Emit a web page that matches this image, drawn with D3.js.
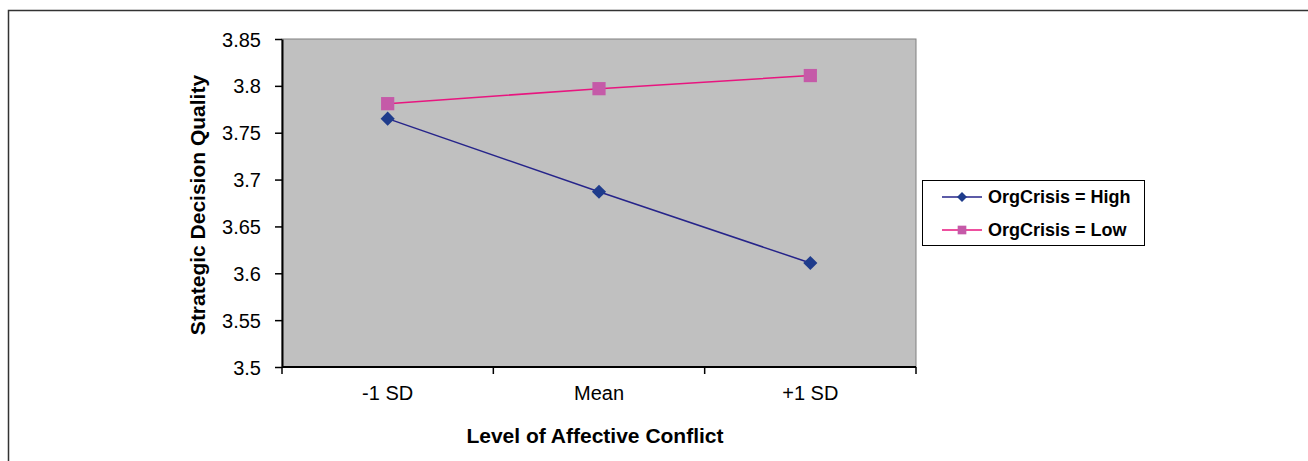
<!DOCTYPE html>
<html>
<head>
<meta charset="utf-8">
<script src="https://cdn.jsdelivr.net/npm/d3@7"></script>
<style>
  body { margin: 0; background: #fff; }
  svg { display: block; font-family: 'Liberation Sans', Arial, sans-serif; }
</style>
</head>
<body>
<div id="chart"></div>
<script>
// Data
const categories = ['-1 SD', 'Mean', '+1 SD'];
const seriesNames = ['OrgCrisis = High', 'OrgCrisis = Low'];
const highValues = [3.765, 3.687, 3.611];
const lowValues = [3.781, 3.797, 3.811];
const yTicks = [3.5, 3.55, 3.6, 3.65, 3.7, 3.75, 3.8, 3.85];

const W = 1308, H = 461;
const plot = { l: 282, r: 916, t: 39, b: 367 };

const svg = d3.select('#chart').append('svg').attr('width', W).attr('height', H);

// outer frame
svg.append('rect')
  .attr('x', 8.5).attr('y', 10.5).attr('width', W + 20).attr('height', H + 20)
  .attr('fill', 'none').attr('stroke', '#333').attr('stroke-width', 1.5);

const x = d3.scaleBand(categories, [plot.l, plot.r]);
const y = d3.scaleLinear([3.5, 3.85], [plot.b, plot.t]);

// plot background
svg.append('rect')
  .attr('x', plot.l).attr('y', plot.t)
  .attr('width', plot.r - plot.l).attr('height', plot.b - plot.t)
  .attr('fill', '#c0c0c0').attr('stroke', '#808080').attr('stroke-width', 1);

// y axis
const yAxis = svg.append('g')
  .attr('transform', `translate(${plot.l}, 0)`)
  .call(d3.axisLeft(y).tickValues(yTicks).tickFormat(d3.format('')).tickSize(7).tickSizeOuter(0).tickPadding(14));
yAxis.select('.domain').attr('stroke', '#000').attr('stroke-width', 2);
yAxis.selectAll('line').attr('stroke', '#000').attr('stroke-width', 1.5);
yAxis.selectAll('text').style('font-size', '20px').attr('fill', '#000').attr('dy', '0.35em');

// x axis with ticks between categories
const xAxis = svg.append('g').attr('transform', `translate(0, ${plot.b})`);
xAxis.append('line')
  .attr('x1', plot.l).attr('x2', plot.r)
  .attr('stroke', '#000').attr('stroke-width', 2);
const bounds = categories.map((c) => x(c)).concat([plot.r]);
xAxis.selectAll('.tk').data(bounds).join('line')
  .attr('x1', (d) => d).attr('x2', (d) => d)
  .attr('y1', 0).attr('y2', 7)
  .attr('stroke', '#000').attr('stroke-width', 1.5);
xAxis.selectAll('.lbl').data(categories).join('text')
  .attr('x', (d) => x(d) + x.bandwidth() / 2)
  .attr('y', 33)
  .attr('text-anchor', 'middle')
  .style('font-size', '20px')
  .text((d) => d);

// axis titles
svg.append('text')
  .attr('transform', `translate(205, ${(plot.t + plot.b) / 2 + 2}) rotate(-90)`)
  .attr('text-anchor', 'middle')
  .style('font-size', '21px').style('font-weight', 'bold')
  .text('Strategic Decision Quality');
svg.append('text')
  .attr('x', (plot.l + plot.r) / 2 - 4).attr('y', 443)
  .attr('text-anchor', 'middle')
  .style('font-size', '21px').style('font-weight', 'bold')
  .text('Level of Affective Conflict');

const cx = (i) => x(categories[i]) + x.bandwidth() / 2;
const line = d3.line().x((d, i) => cx(i)).y((d) => y(d));

const series = [
  { name: seriesNames[0], values: highValues, line: '#26248a', marker: '#1f3c8c', rot: 45, size: 100, lsize: 50 },
  { name: seriesNames[1], values: lowValues, line: '#e8157f', marker: '#c55aa8', rot: 0, size: 175, lsize: 75 }
];

series.forEach((s) => {
  svg.append('path')
    .datum(s.values)
    .attr('fill', 'none').attr('stroke', s.line).attr('stroke-width', 1.5)
    .attr('d', line);
  svg.append('g').selectAll('path').data(s.values).join('path')
    .attr('transform', (d, i) => `translate(${cx(i)}, ${y(d)}) rotate(${s.rot})`)
    .attr('d', d3.symbol(d3.symbolSquare, s.size))
    .attr('fill', s.marker);
});

// legend
const lg = svg.append('g').attr('transform', 'translate(922, 180)');
lg.append('rect')
  .attr('x', 0.5).attr('y', 0.5).attr('width', 222).attr('height', 65)
  .attr('fill', '#fff').attr('stroke', '#000').attr('stroke-width', 1);
series.forEach((s, i) => {
  const ly = 17 + i * 33;
  lg.append('line')
    .attr('x1', 20).attr('x2', 60).attr('y1', ly).attr('y2', ly)
    .attr('stroke', s.line).attr('stroke-width', 1.5);
  lg.append('path')
    .attr('transform', `translate(40, ${ly}) rotate(${s.rot})`)
    .attr('d', d3.symbol(d3.symbolSquare, s.lsize))
    .attr('fill', s.marker);
  lg.append('text')
    .attr('x', 66).attr('y', ly + 6)
    .style('font-size', '18px').style('font-weight', 'bold')
    .text(s.name);
});
</script>
</body>
</html>
